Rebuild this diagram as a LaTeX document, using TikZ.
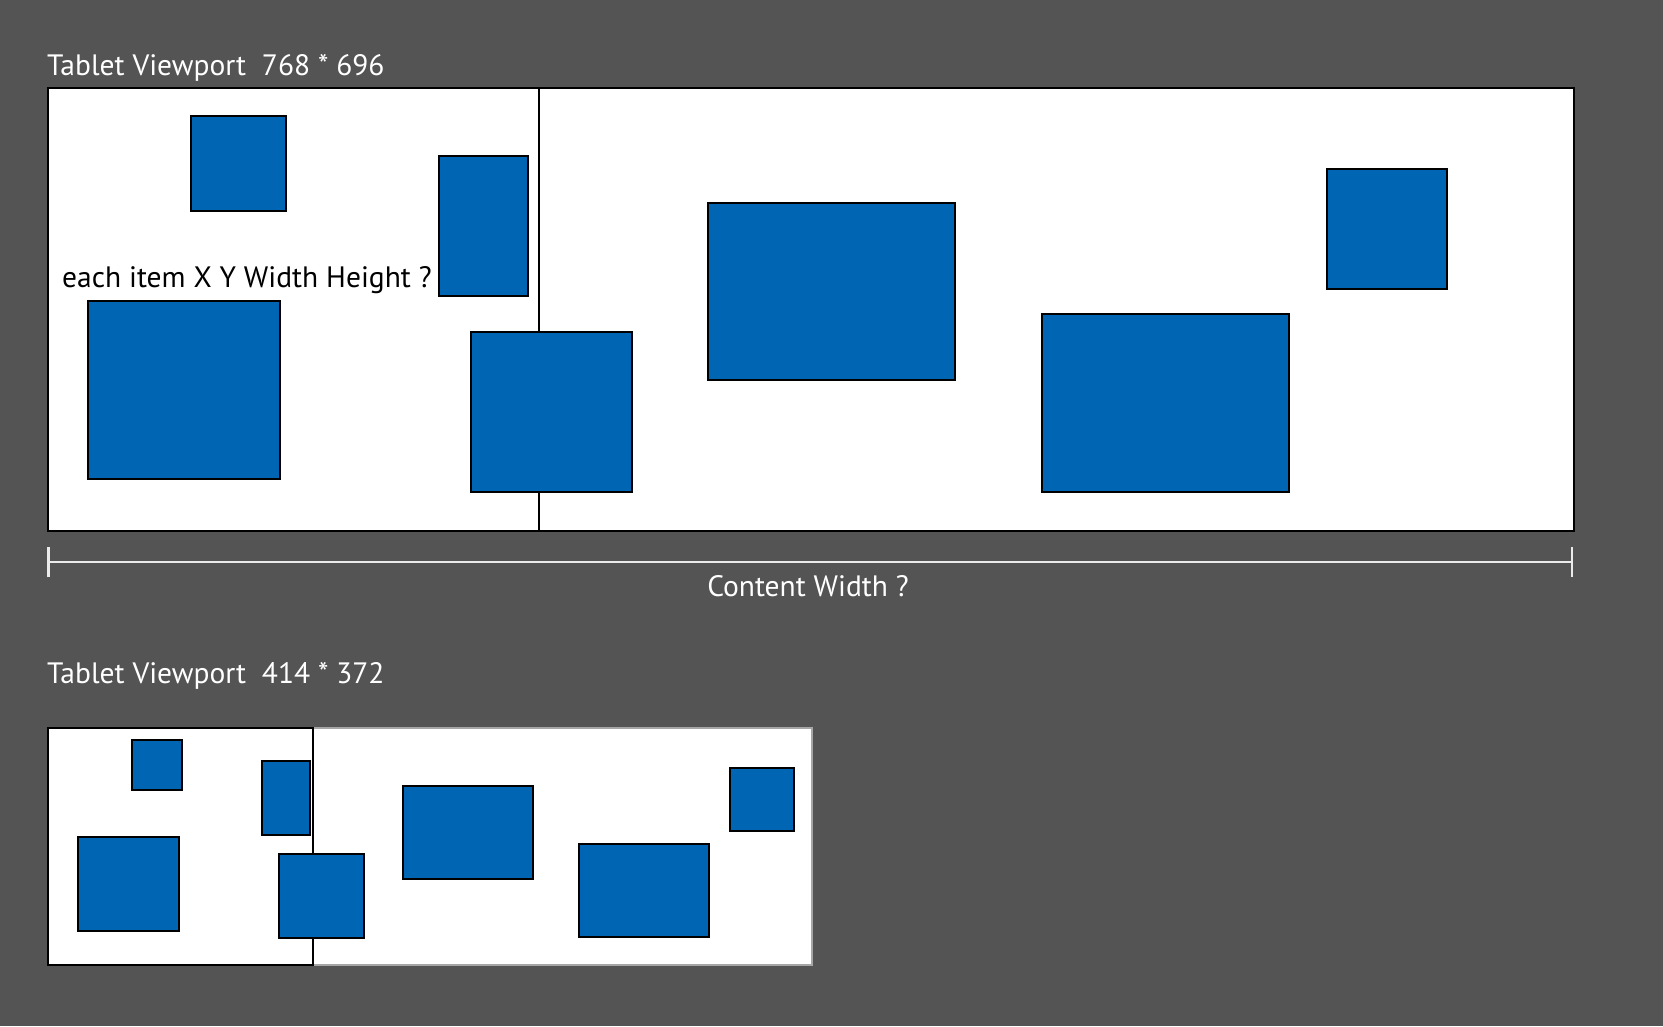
\documentclass[tikz,border=0pt]{standalone}
\usepackage{fontspec}
\setmainfont{PT Sans}
\usepackage{tikz}
\usetikzlibrary{positioning,arrows.meta}
\definecolor{bgray}{RGB}{84,84,84}
\definecolor{itemblue}{RGB}{0,101,178}
\tikzstyle{item}=[draw=black,fill=itemblue,line width=1.6pt,inner sep=0pt,anchor=north west]
\tikzstyle{content}=[draw=black,fill=white,line width=1.6pt,inner sep=0pt,anchor=north west]
\tikzstyle{viewport}=[draw=black,line width=2.4pt,inner sep=0pt,anchor=north west]
\tikzstyle{title}=[text=white,font=\fontsize{29.5}{31}\selectfont,inner sep=0pt,anchor=west]

\begin{document}
\begin{tikzpicture}[x=1pt,y=-1pt]
    \fill[bgray] (0,0) rectangle (1663,1026);
    \useasboundingbox (0,0) rectangle (1663,1026);

    % large tablet
    \node[title] (title_l) at (47,68) {Tablet Viewport\ \ 768 * 696};
    \node[content,minimum width=1526pt,minimum height=443pt] (cont_l) at (47,87) {};

    \node[item,minimum width=95pt,minimum height=95pt]   (l_1) at (190,115) {};
    \node[item,minimum width=89pt,minimum height=140pt]  (l_2) at (438,155) {};
    \node[item,minimum width=192pt,minimum height=178pt] (l_3) at (87,300) {};
    \node[item,minimum width=247pt,minimum height=177pt] (l_5) at (707,202) {};
    \node[item,minimum width=247pt,minimum height=178pt] (l_6) at (1041,313) {};
    \node[item,minimum width=120pt,minimum height=120pt] (l_7) at (1326,168) {};
    \node[viewport,minimum width=491pt,minimum height=443pt] (view_l) at (47,87) {};
    \node[item,minimum width=161pt,minimum height=160pt] (l_4) at (470,331) {};
    \node[anchor=west,inner sep=0pt,font=\fontsize{29.5}{31}\selectfont] (note) at (62,280) {each item X Y Width Height ?};

    % content width
    \coordinate (cw_l) at (47,562);
    \coordinate (cw_r) at (1573,562);
    \draw[white!92!black,line width=2.5pt,{Bar[width=30pt]}-{Bar[width=30pt]}] (cw_l) -- (cw_r);
    \node[title,anchor=center] (cw_label) at (808,586) {Content Width ?};

    % small tablet
    \node[title] (title_s) at (47,676) {Tablet Viewport\ \ 414 * 372};
    \node[content,draw=gray!70,minimum width=764pt,minimum height=237pt] (cont_s) at (47,727) {};

    \node[item,minimum width=50pt,minimum height=50pt]  (s_1) at (131,739) {};
    \node[item,minimum width=48pt,minimum height=74pt]  (s_2) at (261,760) {};
    \node[item,minimum width=101pt,minimum height=94pt] (s_3) at (77,836) {};
    \node[item,minimum width=130pt,minimum height=93pt] (s_5) at (402,785) {};
    \node[item,minimum width=130pt,minimum height=93pt] (s_6) at (578,843) {};
    \node[item,minimum width=64pt,minimum height=63pt]  (s_7) at (729,767) {};
    \node[viewport,line width=1.8pt,minimum width=265pt,minimum height=237pt] (view_s) at (47,727) {};
    \node[item,minimum width=85pt,minimum height=84pt]  (s_4) at (278,853) {};
\end{tikzpicture}
\end{document}
